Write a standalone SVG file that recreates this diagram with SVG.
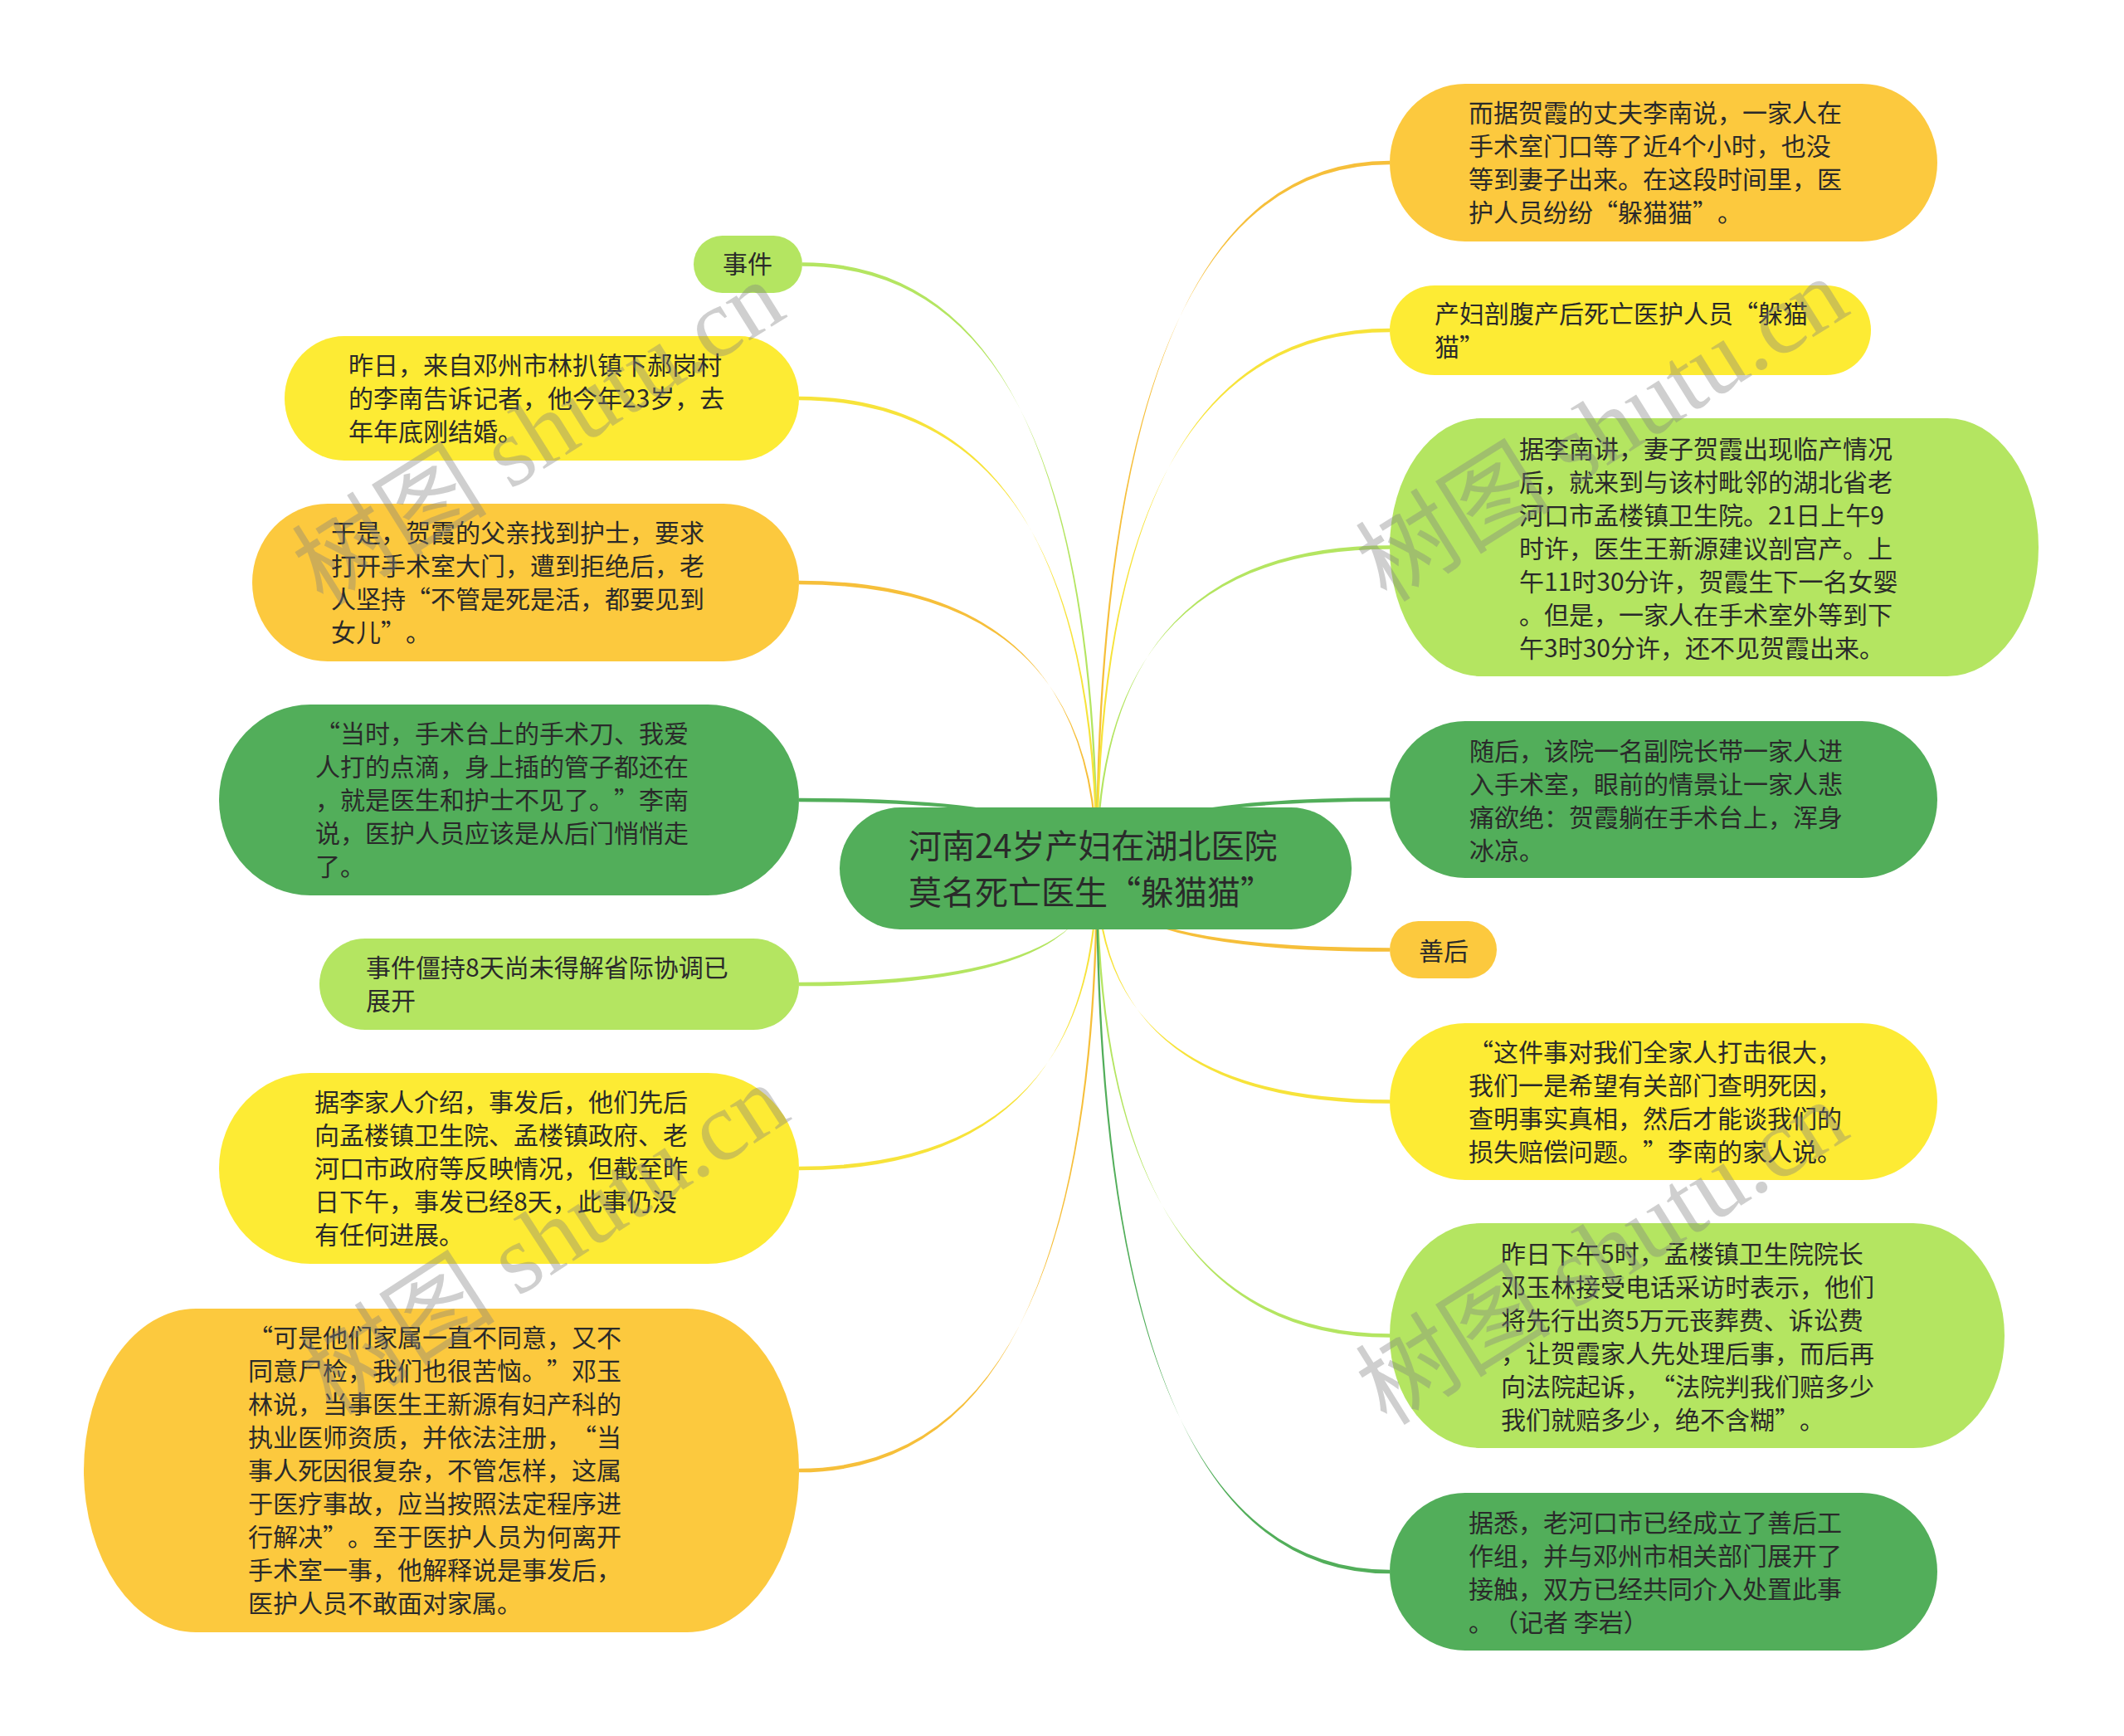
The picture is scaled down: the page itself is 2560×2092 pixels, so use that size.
<svg xmlns="http://www.w3.org/2000/svg" width="2560" height="2092" viewBox="0 0 2560 2092">
<style>
.bg{fill:#ffffff}
.dg{fill:#52ae5a}
.lg{fill:#b4e561}
.yl{fill:#fdeb34}
.or{fill:#fcc93e}
.cdg{fill:#52ae5a}
.clg{fill:#b4e561}
.cyl{fill:#f7e33a}
.cor{fill:#f6bf3a}
text{text-spacing-trim:space-all}
.t{font-family:"Noto Sans CJK SC","Liberation Sans",sans-serif;font-size:30px;fill:#2a2a2a}
.tc{font-family:"Noto Sans CJK SC","Liberation Sans",sans-serif;font-size:40px;fill:#2a2a2a}
.wm{font-family:"Liberation Serif","Noto Sans CJK SC",serif;font-size:118px;fill:#808080;fill-opacity:0.38}
</style>
<rect class="bg" x="0" y="0" width="2560" height="2092"/>
<g id="connectors">
<path class="clg" d="M1320.8,1046 Q1320.8,316.2 967,316.2 L967,320.8 Q1323.2,320.8 1323.2,1046 Z"/>
<path class="cyl" d="M1320.8,1046 Q1320.8,477.7 963,477.7 L963,482.3 Q1323.2,482.3 1323.2,1046 Z"/>
<path class="cor" d="M1320.8,1046 Q1320.8,699.7 963,699.7 L963,704.3 Q1323.2,704.3 1323.2,1046 Z"/>
<path class="cdg" d="M1320.8,1046 Q1320.8,961.7 963,961.7 L963,966.3 Q1323.2,966.3 1323.2,1046 Z"/>
<path class="clg" d="M1320.8,1046 Q1320.8,1188.3 963,1188.3 L963,1183.7 Q1323.2,1183.7 1323.2,1046 Z"/>
<path class="cyl" d="M1320.8,1046 Q1320.8,1410.3 963,1410.3 L963,1405.7 Q1323.2,1405.7 1323.2,1046 Z"/>
<path class="cor" d="M1320.8,1046 Q1320.8,1774.3 963,1774.3 L963,1769.7 Q1323.2,1769.7 1323.2,1046 Z"/>
<path class="cor" d="M1323.2,1046 Q1323.2,193.7 1675,193.7 L1675,198.3 Q1320.8,198.3 1320.8,1046 Z"/>
<path class="cyl" d="M1323.2,1046 Q1323.2,395.7 1675,395.7 L1675,400.3 Q1320.8,400.3 1320.8,1046 Z"/>
<path class="clg" d="M1323.2,1046 Q1323.2,657.2 1675,657.2 L1675,661.8 Q1320.8,661.8 1320.8,1046 Z"/>
<path class="cdg" d="M1323.2,1046 Q1323.2,961.2 1675,961.2 L1675,965.8 Q1320.8,965.8 1320.8,1046 Z"/>
<path class="cor" d="M1323.2,1046 Q1323.2,1146.8 1675,1146.8 L1675,1142.2 Q1320.8,1142.2 1320.8,1046 Z"/>
<path class="cyl" d="M1323.2,1046 Q1323.2,1329.8 1675,1329.8 L1675,1325.2 Q1320.8,1325.2 1320.8,1046 Z"/>
<path class="clg" d="M1323.2,1046 Q1323.2,1611.8 1675,1611.8 L1675,1607.2 Q1320.8,1607.2 1320.8,1046 Z"/>
<path class="cdg" d="M1323.2,1046 Q1323.2,1896.3 1675,1896.3 L1675,1891.7 Q1320.8,1891.7 1320.8,1046 Z"/>
</g>
<g id="center">
<rect class="dg" x="1012" y="973" width="617" height="147" rx="73" ry="73.5"/>
<text class="tc"><tspan x="1095" y="1034">河南24岁产妇在湖北医院</tspan><tspan x="1095" y="1090">莫名死亡医生“躲猫猫”</tspan></text>
</g>
<g id="n-shijian">
<rect class="lg" x="836" y="284" width="131" height="69" rx="34.5" ry="34.5"/>
<text class="t" x="901" y="329" text-anchor="middle">事件</text>
</g>
<g id="n-zuori">
<rect class="yl" x="343" y="405" width="620" height="150" rx="72" ry="75"/>
<text class="t"><tspan x="420" y="451">昨日，来自邓州市林扒镇下郝岗村</tspan><tspan x="420" y="491">的李南告诉记者，他今年23岁，去</tspan><tspan x="420" y="531">年年底刚结婚。</tspan></text>
</g>
<g id="n-yushi">
<rect class="or" x="304" y="607" width="659" height="190" rx="91" ry="95"/>
<text class="t"><tspan x="399" y="653">于是，贺霞的父亲找到护士，要求</tspan><tspan x="399" y="693">打开手术室大门，遭到拒绝后，老</tspan><tspan x="399" y="733">人坚持“不管是死是活，都要见到</tspan><tspan x="399" y="773">女儿”。</tspan></text>
</g>
<g id="n-dangshi">
<rect class="dg" x="264" y="849" width="699" height="230" rx="110" ry="115"/>
<text class="t"><tspan x="380" y="895">“当时，手术台上的手术刀、我爱</tspan><tspan x="380" y="935">人打的点滴，身上插的管子都还在</tspan><tspan x="380" y="975">，就是医生和护士不见了。”李南</tspan><tspan x="380" y="1015">说，医护人员应该是从后门悄悄走</tspan><tspan x="380" y="1055">了。</tspan></text>
</g>
<g id="n-jiangchi">
<rect class="lg" x="385" y="1131" width="578" height="110" rx="55" ry="55"/>
<text class="t"><tspan x="441" y="1177">事件僵持8天尚未得解省际协调已</tspan><tspan x="441" y="1217">展开</tspan></text>
</g>
<g id="n-lijiaren">
<rect class="yl" x="264" y="1293" width="699" height="230" rx="110" ry="115"/>
<text class="t"><tspan x="379" y="1339">据李家人介绍，事发后，他们先后</tspan><tspan x="379" y="1379">向孟楼镇卫生院、孟楼镇政府、老</tspan><tspan x="379" y="1419">河口市政府等反映情况，但截至昨</tspan><tspan x="379" y="1459">日下午，事发已经8天，此事仍没</tspan><tspan x="379" y="1499">有任何进展。</tspan></text>
</g>
<g id="n-keshi">
<rect class="or" x="101" y="1577" width="862" height="390" rx="135" ry="195"/>
<text class="t"><tspan x="299" y="1623">“可是他们家属一直不同意，又不</tspan><tspan x="299" y="1663">同意尸检，我们也很苦恼。”邓玉</tspan><tspan x="299" y="1703">林说，当事医生王新源有妇产科的</tspan><tspan x="299" y="1743">执业医师资质，并依法注册，“当</tspan><tspan x="299" y="1783">事人死因很复杂，不管怎样，这属</tspan><tspan x="299" y="1823">于医疗事故，应当按照法定程序进</tspan><tspan x="299" y="1863">行解决”。至于医护人员为何离开</tspan><tspan x="299" y="1903">手术室一事，他解释说是事发后，</tspan><tspan x="299" y="1943">医护人员不敢面对家属。</tspan></text>
</g>
<g id="n-erju">
<rect class="or" x="1675" y="101" width="660" height="190" rx="91" ry="95"/>
<text class="t"><tspan x="1770" y="147">而据贺霞的丈夫李南说，一家人在</tspan><tspan x="1770" y="187">手术室门口等了近4个小时，也没</tspan><tspan x="1770" y="227">等到妻子出来。在这段时间里，医</tspan><tspan x="1770" y="267">护人员纷纷“躲猫猫”。</tspan></text>
</g>
<g id="n-chanfu">
<rect class="yl" x="1675" y="344" width="580" height="108" rx="54" ry="54"/>
<text class="t"><tspan x="1729" y="389">产妇剖腹产后死亡医护人员“躲猫</tspan><tspan x="1729" y="429">猫”</tspan></text>
</g>
<g id="n-linanjiang">
<rect class="lg" x="1675" y="504" width="782" height="311" rx="110" ry="155.5"/>
<text class="t"><tspan x="1831" y="552">据李南讲，妻子贺霞出现临产情况</tspan><tspan x="1831" y="592">后，就来到与该村毗邻的湖北省老</tspan><tspan x="1831" y="632">河口市孟楼镇卫生院。21日上午9</tspan><tspan x="1831" y="672">时许，医生王新源建议剖宫产。上</tspan><tspan x="1831" y="712">午11时30分许，贺霞生下一名女婴</tspan><tspan x="1831" y="752">。但是，一家人在手术室外等到下</tspan><tspan x="1831" y="792">午3时30分许，还不见贺霞出来。</tspan></text>
</g>
<g id="n-suihou">
<rect class="dg" x="1675" y="869" width="660" height="189" rx="91" ry="94.5"/>
<text class="t"><tspan x="1771" y="916">随后，该院一名副院长带一家人进</tspan><tspan x="1771" y="956">入手术室，眼前的情景让一家人悲</tspan><tspan x="1771" y="996">痛欲绝：贺霞躺在手术台上，浑身</tspan><tspan x="1771" y="1036">冰凉。</tspan></text>
</g>
<g id="n-shanhou">
<rect class="or" x="1675" y="1110" width="129" height="69" rx="34.5" ry="34.5"/>
<text class="t" x="1740" y="1157" text-anchor="middle">善后</text>
</g>
<g id="n-zhejianshi">
<rect class="yl" x="1675" y="1233" width="660" height="189" rx="91" ry="94.5"/>
<text class="t"><tspan x="1770" y="1279">“这件事对我们全家人打击很大，</tspan><tspan x="1770" y="1319">我们一是希望有关部门查明死因，</tspan><tspan x="1770" y="1359">查明事实真相，然后才能谈我们的</tspan><tspan x="1770" y="1399">损失赔偿问题。”李南的家人说。</tspan></text>
</g>
<g id="n-zuoriwu">
<rect class="lg" x="1675" y="1474" width="741" height="271" rx="110" ry="135.5"/>
<text class="t"><tspan x="1809" y="1522">昨日下午5时，孟楼镇卫生院院长</tspan><tspan x="1809" y="1562">邓玉林接受电话采访时表示，他们</tspan><tspan x="1809" y="1602">将先行出资5万元丧葬费、诉讼费</tspan><tspan x="1809" y="1642">，让贺霞家人先处理后事，而后再</tspan><tspan x="1809" y="1682">向法院起诉，“法院判我们赔多少</tspan><tspan x="1809" y="1722">我们就赔多少，绝不含糊”。</tspan></text>
</g>
<g id="n-juxi">
<rect class="dg" x="1675" y="1799" width="660" height="190" rx="91" ry="95"/>
<text class="t"><tspan x="1770" y="1846">据悉，老河口市已经成立了善后工</tspan><tspan x="1770" y="1886">作组，并与邓州市相关部门展开了</tspan><tspan x="1770" y="1926">接触，双方已经共同介入处置此事</tspan><tspan x="1770" y="1966">。（记者 李岩）</tspan></text>
</g>
<g id="watermarks">
<text class="wm" transform="translate(649,522) rotate(-32)" x="0" y="40" text-anchor="middle">树图 shutu.cn</text>
<text class="wm" transform="translate(1931,518) rotate(-32)" x="0" y="40" text-anchor="middle">树图 shutu.cn</text>
<text class="wm" transform="translate(657,1494) rotate(-33)" x="0" y="40" text-anchor="middle">树图 shutu.cn</text>
<text class="wm" transform="translate(1931,1510) rotate(-32)" x="0" y="40" text-anchor="middle">树图 shutu.cn</text>
</g>
</svg>
